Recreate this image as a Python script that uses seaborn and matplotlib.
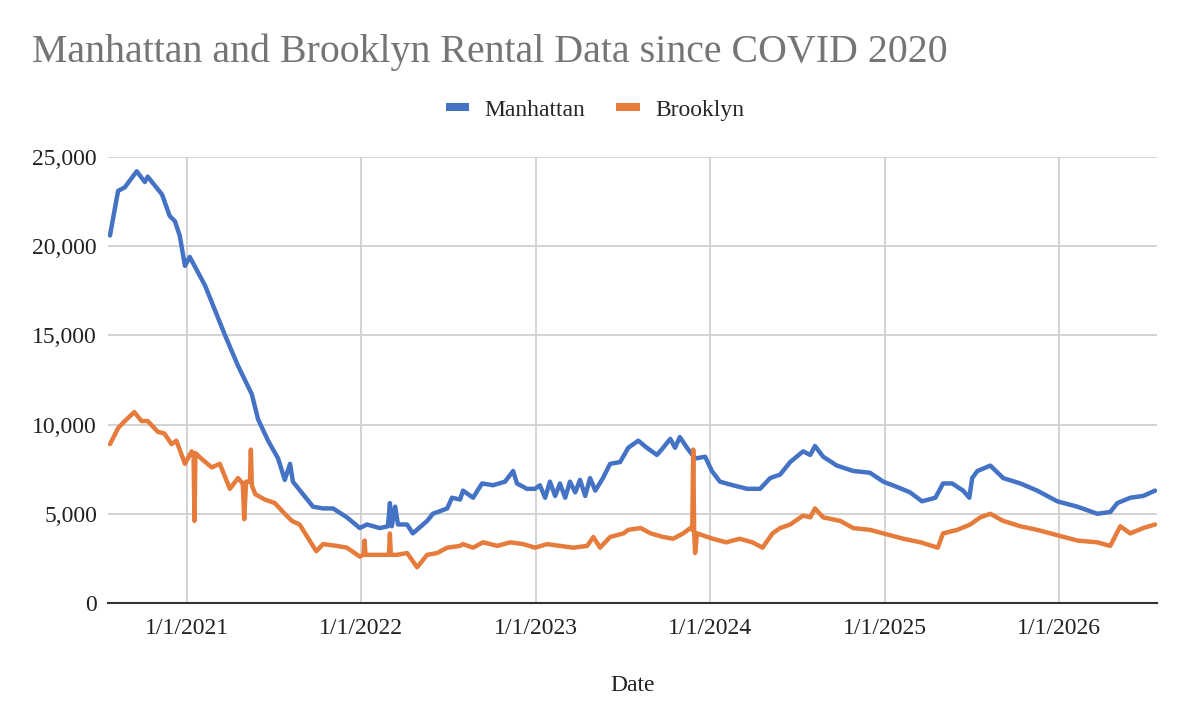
import pandas as pd
import matplotlib
matplotlib.use("Agg")
import matplotlib.pyplot as plt
import matplotlib.dates as mdates
from matplotlib.lines import Line2D
from matplotlib.ticker import FuncFormatter
import seaborn as sns

# values (active rental counts)
manhattan_dates = [
    "2020-07-24", "2020-08-10", "2020-08-24", "2020-09-18", "2020-10-05", "2020-10-11",
    "2020-11-10", "2020-11-26", "2020-12-07", "2020-12-17", "2020-12-28", "2021-01-07",
    "2021-02-08", "2021-03-01", "2021-03-22", "2021-04-18", "2021-05-17", "2021-05-30",
    "2021-06-20", "2021-07-11", "2021-07-25", "2021-08-05", "2021-08-11", "2021-09-01",
    "2021-09-22", "2021-10-13", "2021-11-03", "2021-12-02", "2021-12-29", "2022-01-13",
    "2022-02-09", "2022-02-26", "2022-03-02", "2022-03-06", "2022-03-13", "2022-03-19",
    "2022-04-07", "2022-04-19", "2022-05-19", "2022-05-31", "2022-06-30", "2022-07-10",
    "2022-07-27", "2022-08-02", "2022-08-23", "2022-09-11", "2022-10-04", "2022-10-29",
    "2022-11-15", "2022-11-23", "2022-12-14", "2022-12-31", "2023-01-10", "2023-01-21",
    "2023-01-31", "2023-02-11", "2023-02-21", "2023-03-04", "2023-03-14", "2023-03-25",
    "2023-04-04", "2023-04-15", "2023-04-25", "2023-05-06", "2023-05-22", "2023-06-06",
    "2023-06-27", "2023-07-14", "2023-08-04", "2023-08-22", "2023-09-12", "2023-09-25",
    "2023-10-10", "2023-10-20", "2023-10-30", "2023-11-14", "2023-12-01", "2023-12-22",
    "2024-01-05", "2024-01-22", "2024-02-18", "2024-03-19", "2024-04-15", "2024-05-06",
    "2024-05-27", "2024-06-17", "2024-07-14", "2024-07-29", "2024-08-08", "2024-08-25",
    "2024-09-23", "2024-10-27", "2024-12-01", "2024-12-29", "2025-01-27", "2025-02-23",
    "2025-03-20", "2025-04-17", "2025-05-03", "2025-05-22", "2025-06-14", "2025-06-27",
    "2025-07-03", "2025-07-14", "2025-08-10", "2025-09-06", "2025-10-12", "2025-11-16",
    "2025-12-28", "2026-02-08", "2026-03-22", "2026-04-18", "2026-05-03", "2026-05-30",
    "2026-06-26", "2026-07-21",
]
manhattan_values = [
    20600, 23100, 23300, 24200, 23600, 23900,
    22900, 21700, 21400, 20600, 18900, 19400,
    17800, 16400, 15000, 13300, 11700, 10300,
    9100, 8100, 6900, 7800, 6800, 6100,
    5400, 5300, 5300, 4800, 4200, 4400,
    4200, 4300, 5600, 4300, 5400, 4400,
    4400, 3900, 4600, 5000, 5300, 5900,
    5800, 6300, 5900, 6700, 6600, 6800,
    7400, 6700, 6400, 6400, 6600, 5900,
    6800, 6000, 6700, 5900, 6800, 6200,
    6900, 6000, 7000, 6300, 7000, 7800,
    7900, 8700, 9100, 8700, 8300, 8700,
    9200, 8700, 9300, 8700, 8100, 8200,
    7400, 6800, 6600, 6400, 6400, 7000,
    7200, 7900, 8500, 8300, 8800, 8200,
    7700, 7400, 7300, 6800, 6500, 6200,
    5700, 5900, 6700, 6700, 6300, 5900,
    7000, 7400, 7700, 7000, 6700, 6300,
    5700, 5400, 5000, 5100, 5600, 5900,
    6000, 6300,
]

brooklyn_dates = [
    "2020-07-24", "2020-08-10", "2020-08-24", "2020-09-13", "2020-09-28", "2020-10-11",
    "2020-11-01", "2020-11-15", "2020-11-30", "2020-12-10", "2020-12-28", "2021-01-11",
    "2021-01-15", "2021-01-17", "2021-01-19", "2021-01-31", "2021-02-22", "2021-03-11",
    "2021-04-01", "2021-04-18", "2021-04-28", "2021-05-01", "2021-05-05", "2021-05-13",
    "2021-05-15", "2021-05-17", "2021-05-24", "2021-06-13", "2021-07-04", "2021-07-25",
    "2021-08-09", "2021-08-25", "2021-09-15", "2021-09-29", "2021-10-13", "2021-11-11",
    "2021-12-02", "2021-12-29", "2022-01-06", "2022-01-08", "2022-01-10", "2022-01-19",
    "2022-02-09", "2022-02-28", "2022-03-02", "2022-03-04", "2022-03-17", "2022-04-07",
    "2022-04-28", "2022-05-19", "2022-06-09", "2022-06-30", "2022-07-27", "2022-08-02",
    "2022-08-23", "2022-09-13", "2022-10-13", "2022-11-09", "2022-12-06", "2022-12-31",
    "2023-01-25", "2023-02-21", "2023-03-21", "2023-04-19", "2023-05-02", "2023-05-16",
    "2023-06-06", "2023-07-04", "2023-07-14", "2023-08-09", "2023-08-30", "2023-09-25",
    "2023-10-16", "2023-11-06", "2023-11-21", "2023-11-25", "2023-11-27", "2023-11-29",
    "2023-12-01", "2023-12-05", "2024-01-07", "2024-02-04", "2024-03-03", "2024-03-30",
    "2024-04-20", "2024-05-11", "2024-05-27", "2024-06-17", "2024-07-14", "2024-07-29",
    "2024-08-08", "2024-08-25", "2024-09-30", "2024-10-27", "2024-12-01", "2024-12-29",
    "2025-02-09", "2025-03-17", "2025-04-22", "2025-05-03", "2025-06-02", "2025-06-29",
    "2025-07-20", "2025-08-10", "2025-09-06", "2025-10-12", "2025-11-16", "2025-12-28",
    "2026-02-08", "2026-03-22", "2026-04-18", "2026-05-09", "2026-05-30", "2026-06-26",
    "2026-07-21",
]
brooklyn_values = [
    8900, 9800, 10200, 10700, 10200, 10200,
    9600, 9500, 8900, 9100, 7800, 8500,
    8300, 4600, 8400, 8100, 7600, 7800,
    6400, 7000, 6700, 4700, 6800, 6800,
    8600, 6600, 6100, 5800, 5600, 5000,
    4600, 4400, 3500, 2900, 3300, 3200,
    3100, 2600, 2700, 3500, 2700, 2700,
    2700, 2700, 3900, 2700, 2700, 2800,
    2000, 2700, 2800, 3100, 3200, 3300,
    3100, 3400, 3200, 3400, 3300, 3100,
    3300, 3200, 3100, 3200, 3700, 3100,
    3700, 3900, 4100, 4200, 3900, 3700,
    3600, 3900, 4200, 4100, 8600, 4000,
    2800, 3900, 3600, 3400, 3600, 3400,
    3100, 3900, 4200, 4400, 4900, 4800,
    5300, 4800, 4600, 4200, 4100, 3900,
    3600, 3400, 3100, 3900, 4100, 4400,
    4800, 5000, 4600, 4300, 4100, 3800,
    3500, 3400, 3200, 4300, 3900, 4200,
    4400,
]

series_names = ["Manhattan", "Brooklyn"]
series_colors = ["#4472C4", "#E67C3B"]
year_ticks = ["2021-01-01", "2022-01-01", "2023-01-01", "2024-01-01", "2025-01-01", "2026-01-01"]
y_ticks = [0, 5000, 10000, 15000, 20000, 25000]

df = pd.concat([
    pd.DataFrame({"Date": pd.to_datetime(manhattan_dates), "Rentals": manhattan_values, "Borough": "Manhattan"}),
    pd.DataFrame({"Date": pd.to_datetime(brooklyn_dates), "Rentals": brooklyn_values, "Borough": "Brooklyn"}),
], ignore_index=True)

sns.set_theme(style="white")
plt.rcParams["font.family"] = ["Liberation Serif", "DejaVu Serif"]

fig = plt.figure(figsize=(11.9, 7.18), dpi=100)
ax = fig.add_axes([0.0908, 0.1602, 0.8815, 0.6211])

sns.lineplot(data=df, x="Date", y="Rentals", hue="Borough", hue_order=series_names,
             palette=series_colors, estimator=None, linewidth=3.2, legend=False, ax=ax)

ax.set_xlim(pd.Timestamp("2020-07-20"), pd.Timestamp("2026-07-25"))
ax.set_ylim(0, 25000)
ax.set_xticks(pd.to_datetime(year_ticks))
ax.xaxis.set_major_formatter(FuncFormatter(
    lambda v, pos: "{0.month}/{0.day}/{0.year}".format(mdates.num2date(v))))
ax.set_yticks(y_ticks)
ax.yaxis.set_major_formatter(FuncFormatter(lambda v, pos: f"{int(v):,}"))

ax.grid(True, color="#d0d0d0", linewidth=1.3)
ax.set_axisbelow(True)
for s in ["top", "right", "left"]:
    ax.spines[s].set_visible(False)
ax.spines["bottom"].set_color("#333333")
ax.spines["bottom"].set_linewidth(1.5)
ax.tick_params(axis="both", length=0, labelsize=17, colors="#222222")
ax.tick_params(axis="x", pad=11)
ax.tick_params(axis="y", pad=8)

ax.set_xlabel("Date", fontsize=17, color="#222222", labelpad=26)
ax.set_ylabel("")

fig.text(0.027, 0.9136, "Manhattan and Brooklyn Rental Data since COVID 2020",
         fontsize=28.7, color="#757575", ha="left", va="baseline")

handles = [Line2D([0], [0], color=c, linewidth=5.8, solid_capstyle="butt") for c in series_colors]
fig.legend(handles, series_names, loc="center", bbox_to_anchor=(0.5, 0.847), ncol=2,
           frameon=False, fontsize=17, handlelength=1.0, columnspacing=1.3, handletextpad=0.65)

fig.savefig("out.png", dpi=100)
